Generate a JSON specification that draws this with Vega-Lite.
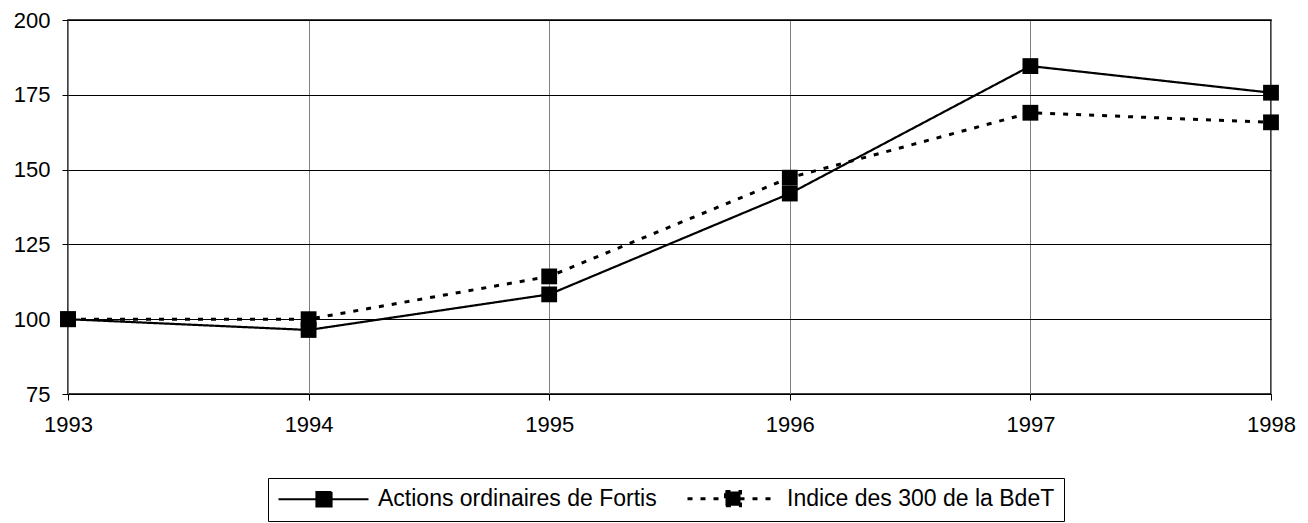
{
  "$schema": "https://vega.github.io/schema/vega-lite/v6.json",
  "width": 1203,
  "height": 374,
  "autosize": {"type": "none"},
  "padding": {"left": 68, "top": 20, "right": 37, "bottom": 129},
  "background": "white",
  "config": {
    "font": "Liberation Sans",
    "view": {"stroke": "black", "strokeWidth": 1.5},
    "axis": {"domain": false, "tickColor": "black", "tickSize": 6, "gridOpacity": 1}
  },
  "data": {
    "values": [
      {"year": 1993, "series": "Actions ordinaires de Fortis", "value": 100},
      {"year": 1994, "series": "Actions ordinaires de Fortis", "value": 96.4},
      {"year": 1995, "series": "Actions ordinaires de Fortis", "value": 108.3},
      {"year": 1996, "series": "Actions ordinaires de Fortis", "value": 142},
      {"year": 1997, "series": "Actions ordinaires de Fortis", "value": 184.6},
      {"year": 1998, "series": "Actions ordinaires de Fortis", "value": 175.7},
      {"year": 1993, "series": "Indice des 300 de la BdeT", "value": 100},
      {"year": 1994, "series": "Indice des 300 de la BdeT", "value": 100},
      {"year": 1995, "series": "Indice des 300 de la BdeT", "value": 114.3},
      {"year": 1996, "series": "Indice des 300 de la BdeT", "value": 147.3},
      {"year": 1997, "series": "Indice des 300 de la BdeT", "value": 169},
      {"year": 1998, "series": "Indice des 300 de la BdeT", "value": 165.8}
    ]
  },
  "encoding": {
    "x": {
      "field": "year", "type": "quantitative",
      "scale": {"domain": [1993, 1998], "nice": false, "zero": false},
      "axis": {"values": [1993, 1994, 1995, 1996, 1997, 1998], "format": "d", "title": null, "grid": true, "gridColor": "#808080", "gridWidth": 1, "labelPadding": 14, "labelFlush": false, "labelFontSize": 22, "labelFont": "Liberation Sans", "labelColor": "black"}
    },
    "y": {
      "field": "value", "type": "quantitative",
      "scale": {"domain": [75, 200], "nice": false, "zero": false},
      "axis": {"values": [75, 100, 125, 150, 175, 200], "title": null, "grid": true, "gridColor": "black", "gridWidth": 1, "labelPadding": 12, "labelFontSize": 22, "labelFont": "Liberation Sans", "labelColor": "black"}
    }
  },
  "layer": [
    {
      "mark": {"type": "line", "color": "black"},
      "encoding": {
        "strokeWidth": {
          "field": "series", "type": "nominal",
          "scale": {"domain": ["Actions ordinaires de Fortis", "Indice des 300 de la BdeT"], "range": [2.2, 3]},
          "legend": null
        },
        "strokeDash": {
          "field": "series", "type": "nominal",
          "scale": {"domain": ["Actions ordinaires de Fortis", "Indice des 300 de la BdeT"], "range": [[1, 0], [5, 8]]},
          "legend": {
            "title": null,
            "orient": "none",
            "legendX": 200,
            "legendY": 458,
            "direction": "horizontal",
            "strokeColor": "black",
            "padding": 9,
            "labelFontSize": 23,
            "labelColor": "black",
            "labelFont": "Liberation Sans",
            "labelLimit": 500,
            "symbolType": "M-1,0H8M2.8,-0.72H4.3V0.72H2.8Z",
            "symbolSize": 400,
            "symbolStrokeWidth": 2,
            "symbolStrokeColor": "black",
            "columnPadding": 24,
            "labelOffset": 78,
            "encode": {"symbols": {"update": {"fill": {"value": "black"}, "stroke": {"value": "black"}}}}
          }
        }
      }
    },
    {
      "mark": {"type": "point", "shape": "square", "filled": true, "color": "black", "size": 250, "opacity": 1},
      "encoding": {"detail": {"field": "series"}}
    }
  ]
}
